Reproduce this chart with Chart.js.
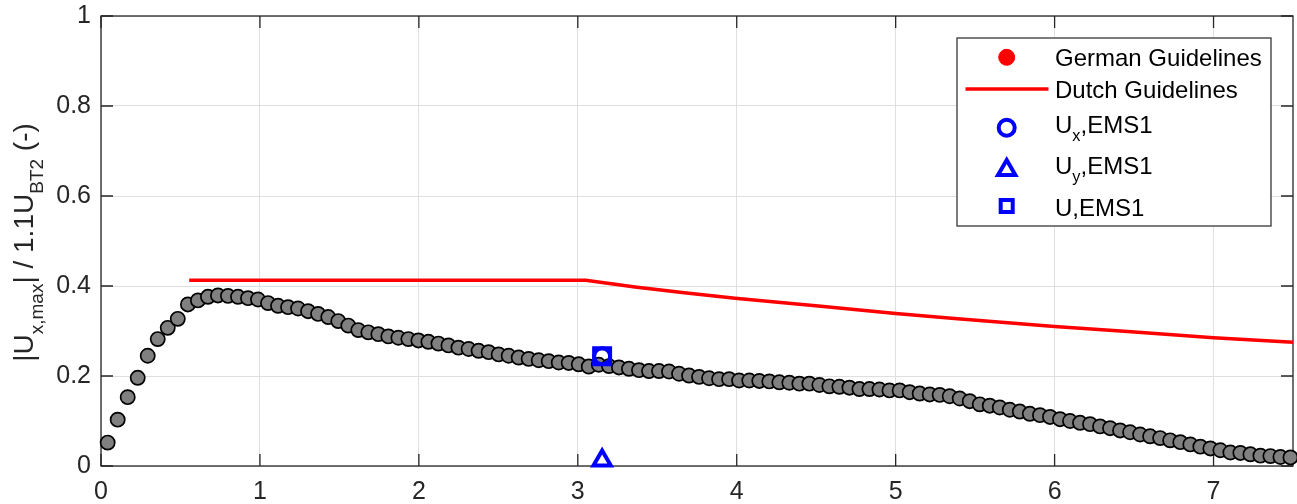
<!DOCTYPE html>
<html>
<head>
<meta charset="utf-8">
<script src="https://cdn.jsdelivr.net/npm/chart.js@4.4.1/dist/chart.umd.min.js"></script>
<style>
  html, body { margin:0; padding:0; background:#fff; }
  #wrap { position:relative; width:1297px; height:504px; }
</style>
</head>
<body>
<div id="wrap"><canvas id="chart"></canvas></div>
<script>
// ===== Data =====
const X_TICKS = [0, 1, 2, 3, 4, 5, 6, 7];
const Y_TICKS = [0, 0.2, 0.4, 0.6, 0.8, 1];

// measured |Ux,max| / 1.1 U_BT2 along the track
const MEAS_X = [
  0.042, 0.105, 0.168, 0.231, 0.294, 0.357, 0.420, 0.483, 0.547, 0.610,
  0.673, 0.736, 0.799, 0.862, 0.925, 0.988, 1.051, 1.114, 1.177, 1.240,
  1.303, 1.366, 1.430, 1.493, 1.556, 1.619, 1.682, 1.745, 1.808, 1.871,
  1.934, 1.997, 2.060, 2.123, 2.186, 2.249, 2.313, 2.376, 2.439, 2.502,
  2.565, 2.628, 2.691, 2.754, 2.817, 2.880, 2.943, 3.006, 3.069, 3.132,
  3.196, 3.259, 3.322, 3.385, 3.448, 3.511, 3.574, 3.637, 3.700, 3.763,
  3.826, 3.889, 3.952, 4.015, 4.079, 4.142, 4.205, 4.268, 4.331, 4.394,
  4.457, 4.520, 4.583, 4.646, 4.709, 4.772, 4.835, 4.898, 4.961, 5.025,
  5.088, 5.151, 5.214, 5.277, 5.340, 5.403, 5.466, 5.529, 5.592, 5.655,
  5.718, 5.781, 5.844, 5.908, 5.971, 6.034, 6.097, 6.160, 6.223, 6.286,
  6.349, 6.412, 6.475, 6.538, 6.601, 6.664, 6.727, 6.791, 6.854, 6.917,
  6.980, 7.043, 7.106, 7.169, 7.232, 7.295, 7.358, 7.421, 7.484
];
const MEAS_Y = [
  0.052, 0.103, 0.153, 0.196, 0.245, 0.282, 0.307, 0.327, 0.359, 0.368,
  0.376, 0.379, 0.378, 0.376, 0.373, 0.370, 0.362, 0.356, 0.353, 0.350,
  0.344, 0.338, 0.331, 0.322, 0.312, 0.302, 0.297, 0.293, 0.288, 0.285,
  0.282, 0.279, 0.276, 0.272, 0.268, 0.263, 0.260, 0.256, 0.253, 0.248,
  0.245, 0.241, 0.238, 0.235, 0.233, 0.230, 0.229, 0.226, 0.221, 0.225,
  0.222, 0.219, 0.216, 0.213, 0.211, 0.211, 0.210, 0.205, 0.201, 0.198,
  0.195, 0.193, 0.193, 0.190, 0.190, 0.189, 0.188, 0.186, 0.185, 0.183,
  0.183, 0.180, 0.177, 0.176, 0.174, 0.171, 0.171, 0.170, 0.168, 0.168,
  0.164, 0.161, 0.159, 0.158, 0.155, 0.150, 0.144, 0.137, 0.134, 0.130,
  0.125, 0.121, 0.116, 0.113, 0.109, 0.104, 0.100, 0.096, 0.093, 0.088,
  0.084, 0.079, 0.075, 0.070, 0.066, 0.062, 0.057, 0.053, 0.048, 0.043,
  0.039, 0.035, 0.030, 0.029, 0.026, 0.023, 0.022, 0.020, 0.019
];

// Dutch guideline limit
const DUTCH_X = [0.555, 3.05, 3.36, 3.67, 3.99, 4.53, 5.00, 5.37, 6.00, 6.46, 7.00, 7.50];
const DUTCH_Y = [0.413, 0.413, 0.398, 0.385, 0.373, 0.355, 0.339, 0.328, 0.310, 0.299, 0.285, 0.275];

// German guideline: no point inside the plotted range
const GERMAN_X = [];
const GERMAN_Y = [];

// EMS1 readings
const EMS1_X  = [3.153];
const UX_EMS1 = [0.244];
const UY_EMS1 = [0.012];
const U_EMS1  = [0.244];

const pts = (xs, ys) => xs.map((x, i) => ({ x, y: ys[i] }));

// ===== Styling =====
const FONT = '"Liberation Sans", Arial, Helvetica, sans-serif';
const INK = '#262626';
const TICK = 12;

// draws text with _{sub} parts
function richParts(str){
  const out = []; const re = /_\{([^}]*)\}/g; let last = 0, m;
  while ((m = re.exec(str))){
    if (m.index > last) out.push({ t:str.slice(last, m.index), sub:false });
    out.push({ t:m[1], sub:true });
    last = re.lastIndex;
  }
  if (last < str.length) out.push({ t:str.slice(last), sub:false });
  return out;
}
function drawRich(ctx, str, x, y, size, center){
  const parts = richParts(str);
  const sub = size * 0.68;
  const fontOf = p => `${p.sub ? sub : size}px ${FONT}`;
  let w = 0;
  parts.forEach(p => { ctx.font = fontOf(p); w += ctx.measureText(p.t).width; });
  let cx = center ? x - w / 2 : x;
  ctx.textAlign = 'left'; ctx.textBaseline = 'alphabetic';
  parts.forEach(p => {
    ctx.font = fontOf(p);
    ctx.fillText(p.t, cx, y + (p.sub ? size * 0.34 : 0));
    cx += ctx.measureText(p.t).width;
  });
}

// Box, inward ticks
const framePlugin = {
  id:'frame',
  beforeDatasetsDraw(chart){
    const { ctx, chartArea:a, scales:{ x, y } } = chart;
    ctx.save();
    ctx.strokeStyle = INK; ctx.lineWidth = 1.3;
    ctx.beginPath();
    x.ticks.forEach(t => {
      const px = x.getPixelForValue(t.value);
      ctx.moveTo(px, a.bottom); ctx.lineTo(px, a.bottom - TICK);
      ctx.moveTo(px, a.top);    ctx.lineTo(px, a.top + TICK);
    });
    y.ticks.forEach(t => {
      const py = y.getPixelForValue(t.value);
      ctx.moveTo(a.left, py);  ctx.lineTo(a.left + TICK, py);
      ctx.moveTo(a.right, py); ctx.lineTo(a.right - TICK, py);
    });
    ctx.stroke();
    ctx.strokeRect(a.left, a.top, a.right - a.left, a.bottom - a.top);
    ctx.restore();
  }
};

// y title with subscripts
const yTitlePlugin = {
  id:'yTitle',
  afterDraw(chart, args, opts){
    const { ctx, chartArea:a } = chart;
    ctx.save();
    ctx.fillStyle = INK;
    ctx.translate(opts.x, (a.top + a.bottom) / 2 + 1.5);
    ctx.rotate(-Math.PI / 2);
    drawRich(ctx, opts.text, 0, 0, opts.size, true);
    ctx.restore();
  }
};

// MATLAB-like legend box
const legendPlugin = {
  id:'boxLegend',
  afterDraw(chart, args, o){
    const ctx = chart.ctx;
    ctx.save();
    ctx.fillStyle = '#fff';
    ctx.fillRect(o.left, o.top, o.width, o.height);
    ctx.strokeStyle = INK; ctx.lineWidth = 1.2;
    ctx.strokeRect(o.left, o.top, o.width, o.height);
    const items = chart.data.datasets.filter(d => d.inLegend);
    items.forEach((ds, i) => {
      const row = o.rows[i];
      if (ds.showLine){
        ctx.strokeStyle = ds.borderColor; ctx.lineWidth = ds.borderWidth;
        ctx.beginPath(); ctx.moveTo(o.lineFrom, row.m); ctx.lineTo(o.lineTo, row.m); ctx.stroke();
      } else {
        ctx.fillStyle = ds.backgroundColor; ctx.strokeStyle = ds.borderColor;
        ctx.lineWidth = ds.borderWidth; ctx.lineJoin = 'miter';
        Chart.helpers.drawPoint(ctx, {
          pointStyle: ds.pointStyle, radius: ds.legendRadius || ds.pointRadius,
          borderWidth: ds.borderWidth, rotation: 0
        }, o.markerX, row.m);
      }
      ctx.fillStyle = '#000';
      drawRich(ctx, ds.label, o.textX, row.b, o.size, false);
    });
    ctx.restore();
  }
};

new Chart(document.getElementById('chart'), {
  type:'scatter',
  data:{
    datasets:[
      { label:'German Guidelines', data:pts(GERMAN_X, GERMAN_Y), inLegend:true,
        pointStyle:'circle', pointRadius:8, backgroundColor:'#ff0000', borderColor:'#ff0000', borderWidth:1 },
      { label:'Dutch Guidelines', data:pts(DUTCH_X, DUTCH_Y), inLegend:true, showLine:true,
        borderColor:'#ff0000', borderWidth:3.5, pointRadius:0, tension:0, clip:false },
      { label:'U_{x},EMS1', data:pts(EMS1_X, UX_EMS1), inLegend:true, clip:false,
        pointStyle:'circle', pointRadius:8, backgroundColor:'rgba(0,0,0,0)', borderColor:'#0000ff', borderWidth:4 },
      { label:'U_{y},EMS1', data:pts(EMS1_X, UY_EMS1), inLegend:true, clip:false,
        pointStyle:'triangle', pointRadius:10, backgroundColor:'rgba(0,0,0,0)', borderColor:'#0000ff', borderWidth:4 },
      { label:'U,EMS1', data:pts(EMS1_X, U_EMS1), inLegend:true, clip:false, legendRadius:8.5,
        pointStyle:'rect', pointRadius:11.3, backgroundColor:'rgba(0,0,0,0)', borderColor:'#0000ff', borderWidth:4 },
      { label:'Measured', data:pts(MEAS_X, MEAS_Y), clip:false,
        pointStyle:'circle', pointRadius:7.1, backgroundColor:'#808080', borderColor:'#000', borderWidth:1.7 }
    ]
  },
  options:{
    responsive:true, maintainAspectRatio:false, animation:false,
    layout:{ autoPadding:false, padding:{ left:0, top:16, right:4, bottom:0 } },
    plugins:{
      legend:{ display:false },
      tooltip:{ enabled:false },
      yTitle:{ text:'|U_{x,max}| / 1.1U_{BT2} (-)', x:33, size:28 },
      boxLegend:{
        left:957, top:38, width:314, height:188, size:24,
        markerX:1006.7, lineFrom:965.5, lineTo:1048.5, textX:1055,
        rows:[ { m:57.3, b:65.5 }, { m:89, b:97.5 }, { m:127.7, b:132.5 },
               { m:170, b:173.5 }, { m:206, b:215.5 } ]
      }
    },
    scales:{
      x:{
        type:'linear', min:0, max:7.5,
        afterBuildTicks:s => { s.ticks = X_TICKS.map(v => ({ value:v })); },
        afterFit:s => { s.height = 38; s.paddingLeft = 0; s.paddingRight = 0; },
        grid:{ color:'#dfdfdf', lineWidth:1, drawTicks:false },
        border:{ display:false },
        ticks:{ color:INK, padding:11, font:{ family:FONT, size:25 }, callback:v => String(v) }
      },
      y:{
        type:'linear', min:0, max:1,
        afterBuildTicks:s => { s.ticks = Y_TICKS.map(v => ({ value:v })); },
        afterFit:s => { s.width = 101; s.paddingTop = 0; s.paddingBottom = 0; },
        grid:{ color:'#dfdfdf', lineWidth:1, drawTicks:false },
        border:{ display:false },
        ticks:{ color:INK, padding:10, font:{ family:FONT, size:25 }, callback:v => String(Number(v.toFixed(1))) }
      }
    }
  },
  plugins:[framePlugin, yTitlePlugin, legendPlugin]
});
</script>
</body>
</html>
